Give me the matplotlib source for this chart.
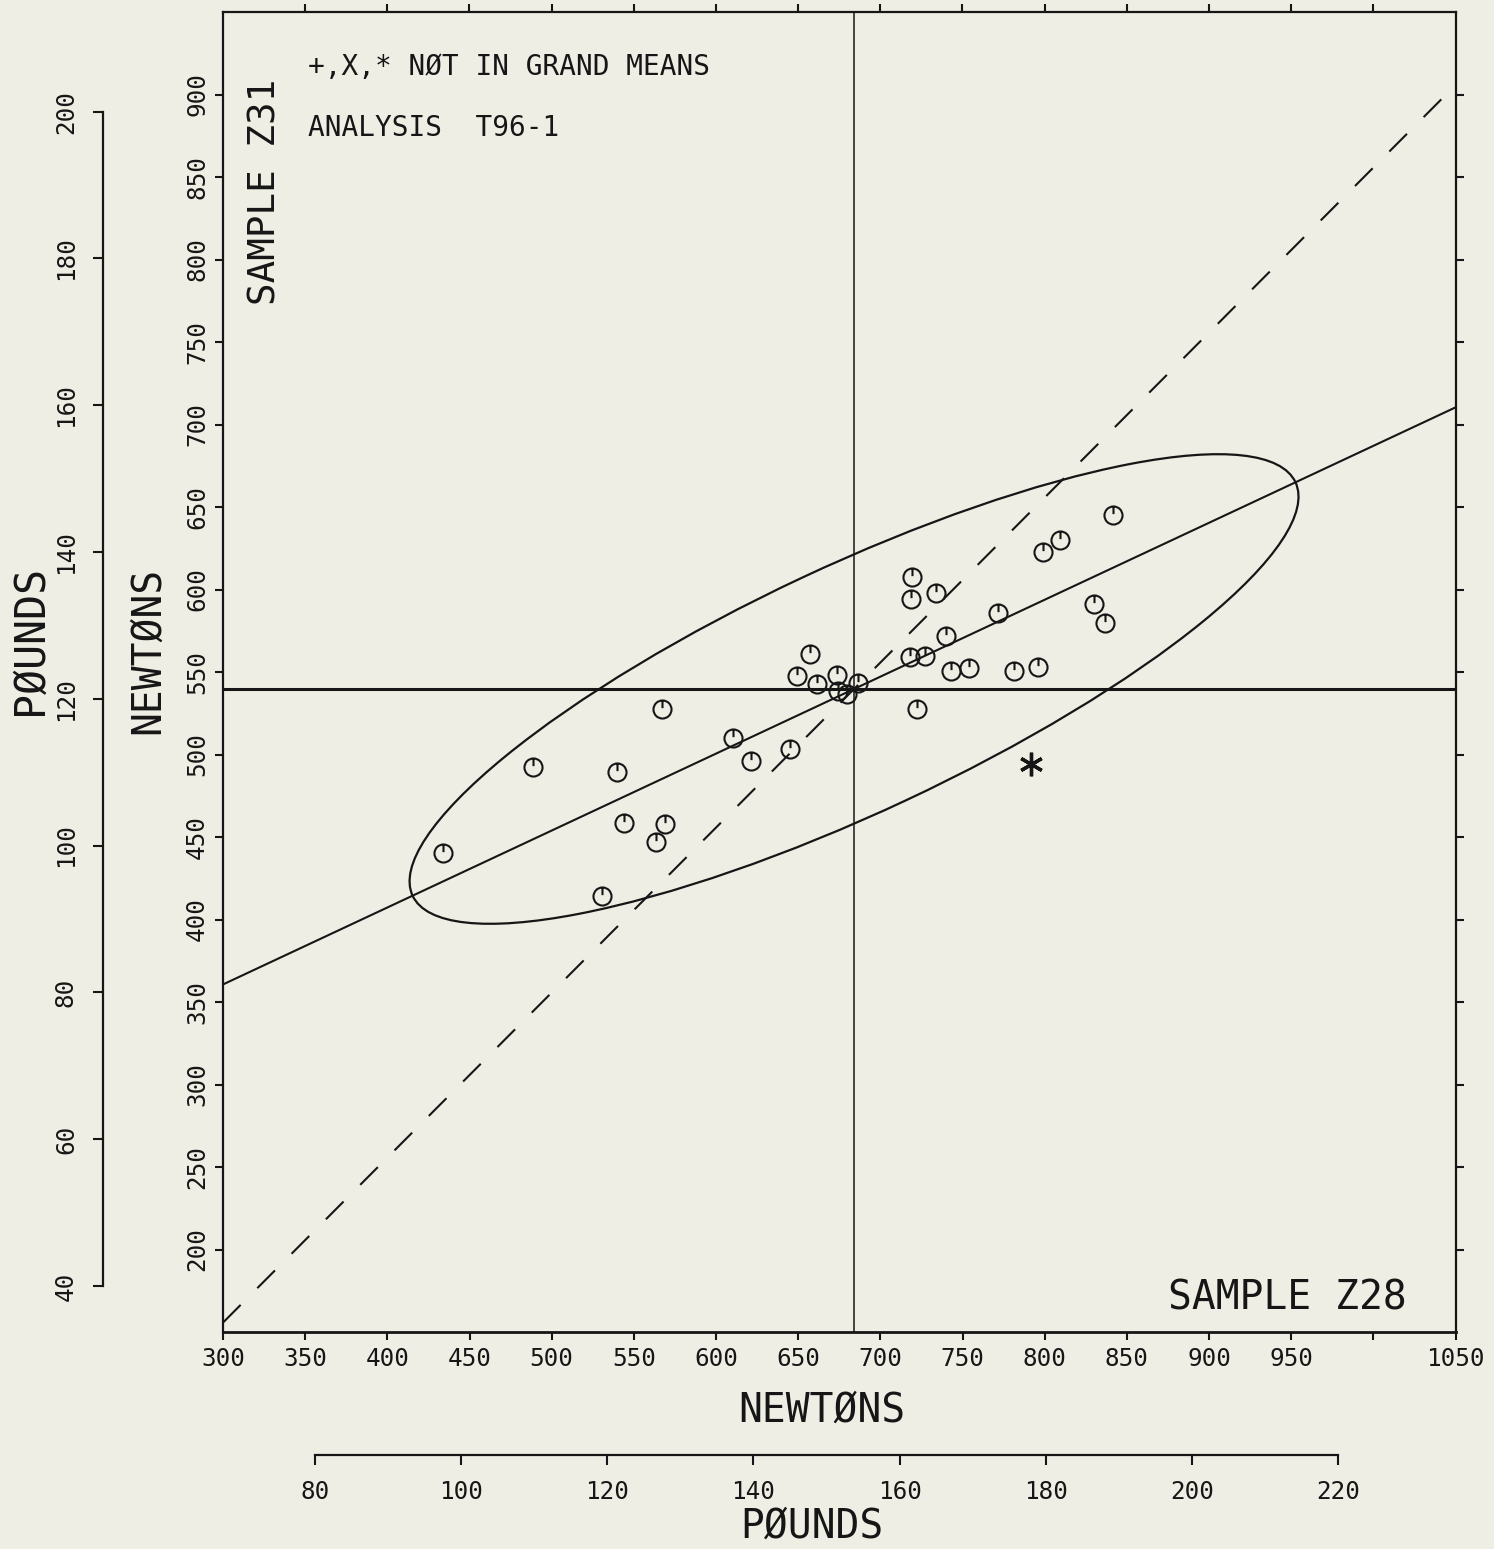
import numpy as np
import matplotlib
matplotlib.use("Agg")
import matplotlib.pyplot as plt
from matplotlib.path import Path
from matplotlib.patches import Ellipse

# ---------------- data (Newtons) ----------------
sample_z28 = [434.1, 488.5, 530.6, 539.9, 544.0, 563.3, 569.0, 567.3, 610.2, 621.1,
              645.0, 649.5, 657.2, 661.3, 673.4, 674.4, 679.5, 686.6, 841.8, 809.3,
              798.7, 719.5, 718.7, 733.9, 771.8, 830.2, 836.7, 739.8, 718.1, 727.2,
              742.8, 754.0, 781.5, 796.1, 722.5]
sample_z31 = [440.5, 492.6, 414.4, 489.2, 458.3, 447.2, 457.9, 527.6, 509.8, 496.2,
              503.2, 547.6, 560.9, 542.5, 548.0, 538.7, 536.7, 543.5, 645.2, 629.7,
              622.5, 607.4, 594.2, 597.7, 585.6, 591.5, 579.5, 571.8, 559.3, 559.7,
              550.8, 552.2, 550.6, 552.8, 527.8]
excluded_z28 = [791.5]
excluded_z31 = [494.2]

grand_mean_z28 = 684.0
grand_mean_z31 = 539.7
ellipse_semi_major = 296.4
ellipse_semi_minor = 74.5
ellipse_angle_deg = 25.0
N_PER_LBF = 4.44822

x_ticks = list(range(300, 1051, 50))
x_tick_labels = ["" if v == 1000 else str(v) for v in x_ticks]
top_ticks = list(range(350, 1001, 50))
y_ticks = list(range(200, 901, 50))
y_tick_labels = [str(v) for v in y_ticks]
lbf_bottom_ticks = list(range(80, 221, 20))
lbf_left_ticks = list(range(40, 201, 20))

# ---------------- style ----------------
BG = "#efeee4"
INK = "#161616"
FONT = "DejaVu Sans Mono"
plt.rcParams["font.family"] = [FONT, "DejaVu Sans"]
plt.rcParams["lines.scale_dashes"] = False

W, H = 1494, 1549
fig = plt.figure(figsize=(W / 100, H / 100), dpi=100, facecolor=BG)


def fx(px):
    return px / W


def fy(py):
    return 1 - py / H


L, R, T, B = 223, 1455.5, 12, 1332
ax = fig.add_axes([fx(L), fy(B), (R - L) / W, (B - T) / H])
ax.set_facecolor(BG)
ax.set_xlim(300, 1050)
ax.set_ylim(150, 950)
for s in ax.spines.values():
    s.set_linewidth(1.6)
    s.set_color(INK)
ax.spines["bottom"].set_linewidth(2.0)

ax.set_xticks(x_ticks)
ax.set_xticklabels(x_tick_labels, fontsize=17.5, color=INK)
ax.set_yticks(y_ticks)
ax.set_yticklabels(y_tick_labels, fontsize=17.5, rotation=90, va="center", color=INK)
ax.tick_params(axis="both", direction="out", length=6, width=1.5, colors=INK,
               top=False, right=True, labeltop=False, labelright=False)
ax.tick_params(axis="x", pad=4.5)
ax.tick_params(axis="y", pad=4)

# top ticks (no ticks at the corners)
axt = ax.secondary_xaxis("top")
axt.set_xticks(top_ticks)
axt.set_xticklabels([])
axt.tick_params(direction="out", length=6, width=1.5, colors=INK)
axt.spines["top"].set_visible(False)

# mean lines
ax.axvline(grand_mean_z28, color=INK, lw=1.1, zorder=2)
ax.axhline(grand_mean_z31, color=INK, lw=2.2, zorder=2)

# major axis line of the ellipse
xs = np.array([300.0, 1050.0])
slope = np.tan(np.radians(ellipse_angle_deg))
ax.plot(xs, grand_mean_z31 + slope * (xs - grand_mean_z28), color=INK, lw=1.5, zorder=2)

# 45-degree dashed line through the grand means
ax.plot(xs, xs + (grand_mean_z31 - grand_mean_z28), color=INK, lw=1.5,
        dashes=(18, 17), zorder=2)

# confidence ellipse
ax.add_patch(Ellipse((grand_mean_z28, grand_mean_z31), 2 * ellipse_semi_major,
                     2 * ellipse_semi_minor, angle=ellipse_angle_deg, fill=False,
                     edgecolor=INK, lw=1.6, zorder=2))

# circle marker with a stroke from the top to the centre
circ = Path.unit_circle()
verts = np.concatenate([circ.vertices, [[0, 1], [0, 0.15]]])
codes = np.concatenate([circ.codes, [Path.MOVETO, Path.LINETO]])
lab_marker = Path(verts, codes)

ax.plot(sample_z28, sample_z31, linestyle="none", marker=lab_marker, markersize=13,
        markerfacecolor="none", markeredgecolor=INK, markeredgewidth=1.5, zorder=3)
ax.plot(excluded_z28, excluded_z31, linestyle="none", marker=(6, 2, 0), markersize=17,
        markeredgecolor=INK, markeredgewidth=2.4, zorder=3)

# annotations inside
fig.text(fx(308), fy(67), "+,X,* NØT IN GRAND MEANS", fontsize=20, color=INK,
         ha="left", va="center")
fig.text(fx(308), fy(128), "ANALYSIS  T96-1", fontsize=20, color=INK,
         ha="left", va="center")
fig.text(fx(265), fy(192), "SAMPLE Z31", fontsize=27, color=INK, rotation=90,
         ha="center", va="center")
fig.text(fx(1287), fy(1298), "SAMPLE Z28", fontsize=28.5, color=INK,
         ha="center", va="center")

# axis titles
fig.text(fx(822), fy(1411), "NEWTØNS", fontsize=28.5, color=INK, ha="center", va="center")
fig.text(fx(812), fy(1527), "PØUNDS", fontsize=28.5, color=INK, ha="center", va="center")
fig.text(fx(148), fy(650), "NEWTØNS", fontsize=28.5, color=INK, rotation=90,
         ha="center", va="center")
fig.text(fx(30), fy(640), "PØUNDS", fontsize=30, color=INK, rotation=90,
         ha="center", va="center")

# ---------------- pounds axis (bottom) ----------------
axb = fig.add_axes([fx(L), fy(1455), (R - L) / W, 0.0001])
axb.patch.set_alpha(0)
axb.set_xlim(300 / N_PER_LBF, 1050 / N_PER_LBF)
for s in ["top", "left", "right"]:
    axb.spines[s].set_visible(False)
axb.spines["bottom"].set_bounds(lbf_bottom_ticks[0], lbf_bottom_ticks[-1])
axb.spines["bottom"].set_linewidth(1.6)
axb.spines["bottom"].set_color(INK)
axb.set_yticks([])
axb.set_xticks(lbf_bottom_ticks)
axb.set_xticklabels([str(v) for v in lbf_bottom_ticks], fontsize=17.5, color=INK)
axb.tick_params(axis="x", direction="out", length=7, width=1.5, colors=INK, pad=11)

# ---------------- pounds axis (left) ----------------
axl = fig.add_axes([fx(103), fy(B), 0.0001, (B - T) / H])
axl.patch.set_alpha(0)
axl.set_ylim(150 / N_PER_LBF, 950 / N_PER_LBF)
for s in ["top", "bottom", "right"]:
    axl.spines[s].set_visible(False)
axl.spines["left"].set_bounds(lbf_left_ticks[0], lbf_left_ticks[-1])
axl.spines["left"].set_linewidth(1.6)
axl.spines["left"].set_color(INK)
axl.set_xticks([])
axl.set_yticks(lbf_left_ticks)
axl.set_yticklabels([str(v) for v in lbf_left_ticks], fontsize=17.5, rotation=90,
                    va="center", color=INK)
axl.tick_params(axis="y", direction="out", length=7, width=1.5, colors=INK, pad=11)

fig.savefig("out.png", dpi=100, facecolor=BG)
